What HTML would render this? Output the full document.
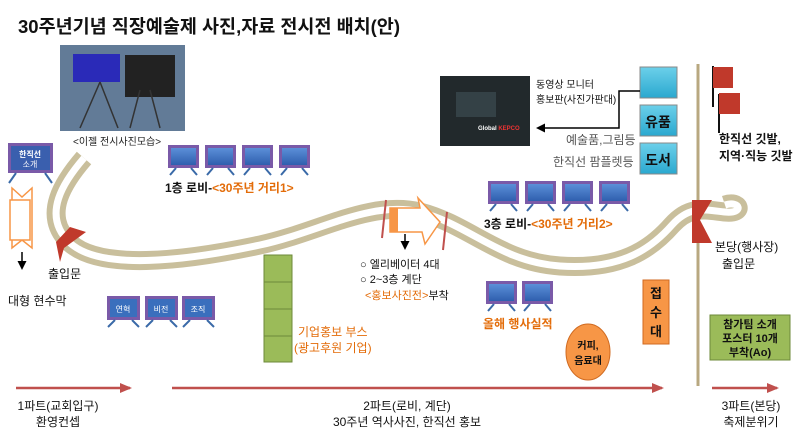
<!DOCTYPE html>
<html><head><meta charset="utf-8"><style>
body{margin:0;background:#fff;}
svg{display:block;font-family:"Liberation Sans","Noto Sans CJK KR",sans-serif;}
.b{font-weight:bold}
</style></head><body>
<svg width="800" height="435" viewBox="0 0 800 435" xmlns="http://www.w3.org/2000/svg">
<defs>
<linearGradient id="scr" x1="0" y1="0" x2="0" y2="1"><stop offset="0" stop-color="#5b8fd8"/><stop offset="1" stop-color="#2f5fae"/></linearGradient>
<linearGradient id="cy" x1="0" y1="0" x2="0" y2="1"><stop offset="0" stop-color="#6cd0ea"/><stop offset="1" stop-color="#2aa8cf"/></linearGradient>
<marker id="ar" markerUnits="userSpaceOnUse" markerWidth="12" markerHeight="10" refX="10" refY="5" orient="auto"><path d="M0,0 L12,5 L0,10 Z" fill="#c0504d"/></marker>
<marker id="ak" markerUnits="userSpaceOnUse" markerWidth="9" markerHeight="9" refX="7" refY="4.5" orient="auto"><path d="M0,0 L9,4.5 L0,9 Z" fill="#000"/></marker>
<g id="scrn"><rect x="0" y="0" width="31" height="23" fill="#7a5aa8"/><rect x="3" y="3" width="25" height="17" fill="url(#scr)"/><path d="M8,23 L2,30 M23,23 L29,30" stroke="#3a6aa8" stroke-width="2"/></g>
<g id="sm"><rect x="0" y="0" width="33" height="24" fill="#7a5aa8"/><rect x="3" y="3" width="27" height="18" fill="#3a6fbd"/><path d="M8,24 L1,31 M25,24 L32,31" stroke="#3a6aa8" stroke-width="2"/></g>
</defs>
<text x="18" y="33" font-size="18.5" class="b" fill="#111">30주년기념 직장예술제 사진,자료 전시전 배치(안)</text>
<!-- photo -->
<rect x="60" y="45" width="125" height="86" fill="#5a6f86"/>
<rect x="60" y="45" width="125" height="86" fill="#6a87a8" opacity="0.5"/>
<rect x="73" y="54" width="47" height="28" fill="#2a2ab8"/>
<rect x="125" y="55" width="50" height="42" fill="#222"/>
<path d="M100,82 L80,128 M100,82 L118,128 M140,90 L130,128 M150,90 L160,128" stroke="#333" stroke-width="1.5"/>
<text x="73" y="145" font-size="10" fill="#222">&lt;이젤 전시사진모습&gt;</text>
<!-- road -->
<path d="M84,158 C65,180 40,215 70,243 C100,270 180,262 260,245 C320,232 370,200 420,212 C470,225 500,262 560,266 C620,270 650,250 672,225 C690,205 705,210 725,212 C745,214 740,200 725,205" fill="none" stroke="#c9bf9c" stroke-width="19"/>
<path d="M84,158 C65,180 40,215 70,243 C100,270 180,262 260,245 C320,232 370,200 420,212 C470,225 500,262 560,266 C620,270 650,250 672,225 C690,205 705,210 725,212 C745,214 740,200 725,205" fill="none" stroke="#fff" stroke-width="7"/>
<!-- left easel -->
<rect x="8" y="143" width="45" height="30" fill="#7a5aa8"/><rect x="11" y="146" width="39" height="24" fill="#3a5fae"/>
<text x="30" y="157" font-size="8" fill="#fff" text-anchor="middle" class="b">한직선</text>
<text x="30" y="167" font-size="8" fill="#fff" text-anchor="middle">소개</text>
<path d="M16,173 L9,183 M45,173 L52,183" stroke="#3a6aa8" stroke-width="2"/>
<path d="M12,188 L22,197 L32,188 L32,248 L22,240 L12,248 Z" fill="#fff" stroke="#f79646" stroke-width="1.5"/>
<rect x="10" y="200" width="20" height="40" fill="#fff" stroke="#f79646" stroke-width="1.5"/>
<line x1="22" y1="252" x2="22" y2="268" stroke="#000" stroke-width="1.5" marker-end="url(#ak)"/>
<text x="8" y="305" font-size="12" fill="#111">대형 현수막</text>
<path d="M70,227 L86,232 L64,248 L60,262 L56,242 Z" fill="#c0392b"/>
<text x="48" y="278" font-size="12" fill="#111">출입문</text>
<!-- 1F screens -->
<use href="#scrn" x="168" y="145"/><use href="#scrn" x="205" y="145"/><use href="#scrn" x="242" y="145"/><use href="#scrn" x="279" y="145"/>
<text x="165" y="192" font-size="12" class="b" fill="#111">1층 로비-<tspan fill="#e36c09">&lt;30주년 거리1&gt;</tspan></text>
<!-- arrow -->
<path d="M390,208 L420,208 L418,198 L440,222 L425,244 L422,232 L390,232 Z" fill="#fff" stroke="#f79646" stroke-width="1.5"/>
<rect x="390" y="208" width="8" height="24" fill="#f79646"/>
<line x1="386" y1="200" x2="382" y2="238" stroke="#c0504d" stroke-width="2"/>
<line x1="447" y1="212" x2="443" y2="250" stroke="#c0504d" stroke-width="2"/>
<line x1="405" y1="234" x2="405" y2="248" stroke="#000" stroke-width="1.5" marker-end="url(#ak)"/>
<text x="360" y="268" font-size="11" fill="#111">○ 엘리베이터 4대</text>
<text x="360" y="283" font-size="11" fill="#111">○ 2~3층 계단</text>
<text x="365" y="299" font-size="11" fill="#111"><tspan fill="#e36c09">&lt;홍보사진전&gt;</tspan>부착</text>
<!-- 3F screens -->
<use href="#scrn" x="488" y="181"/><use href="#scrn" x="525" y="181"/><use href="#scrn" x="562" y="181"/><use href="#scrn" x="599" y="181"/>
<text x="484" y="228" font-size="12" class="b" fill="#111">3층 로비-<tspan fill="#e36c09">&lt;30주년 거리2&gt;</tspan></text>
<!-- green booth -->
<g fill="#9bbb59" stroke="#6e8a3a"><rect x="264" y="255" width="28" height="27"/><rect x="264" y="282" width="28" height="27"/><rect x="264" y="309" width="28" height="27"/><rect x="264" y="336" width="28" height="26"/></g>
<text x="298" y="336" font-size="12" fill="#e36c09">기업홍보 부스</text>
<text x="294" y="352" font-size="12" fill="#e36c09">(광고후원 기업)</text>
<!-- small easels -->
<use href="#sm" x="107" y="296"/><use href="#sm" x="145" y="296"/><use href="#sm" x="182" y="296"/>
<text x="123" y="312" font-size="8" fill="#fff" text-anchor="middle">연혁</text>
<text x="161" y="312" font-size="8" fill="#fff" text-anchor="middle">비전</text>
<text x="198" y="312" font-size="8" fill="#fff" text-anchor="middle">조직</text>
<!-- this year -->
<use href="#scrn" x="486" y="281"/><use href="#scrn" x="522" y="281"/>
<text x="483" y="328" font-size="12" class="b" fill="#e36c09">올해 행사실적</text>
<ellipse cx="588" cy="352" rx="22" ry="28" fill="#f79646" stroke="#d06a20"/>
<text x="588" y="349" font-size="10" text-anchor="middle" class="b" fill="#111">커피,</text>
<text x="588" y="364" font-size="10" text-anchor="middle" class="b" fill="#111">음료대</text>
<rect x="643" y="280" width="26" height="64" fill="#f79646" stroke="#d06a20"/>
<text x="656" y="298" font-size="13" text-anchor="middle" class="b" fill="#111">접</text>
<text x="656" y="317" font-size="13" text-anchor="middle" class="b" fill="#111">수</text>
<text x="656" y="336" font-size="13" text-anchor="middle" class="b" fill="#111">대</text>
<!-- vertical line -->
<line x1="698" y1="64" x2="698" y2="386" stroke="#b8a880" stroke-width="3"/>
<path d="M692,200 L712,200 L700,220 L712,243 L692,243 Z" fill="#c0392b"/>
<text x="715" y="251" font-size="12" fill="#111">본당(행사장)</text>
<text x="722" y="268" font-size="12" fill="#111">출입문</text>
<!-- flags -->
<line x1="713" y1="66" x2="713" y2="107" stroke="#111" stroke-width="2"/>
<path d="M713,67 L733,67 L733,88 L713,88 Z" fill="#c0392b"/>
<line x1="719" y1="94" x2="719" y2="133" stroke="#111" stroke-width="2"/>
<path d="M719,93 L740,93 L740,114 L719,114 Z" fill="#c0392b"/>
<text x="719" y="143" font-size="12" class="b" fill="#111">한직선 깃발,</text>
<text x="719" y="160" font-size="12" class="b" fill="#111">지역·직능 깃발</text>
<rect x="710" y="315" width="80" height="45" fill="#9bbb59" stroke="#6e8a3a"/>
<text x="750" y="328" font-size="11" text-anchor="middle" class="b" fill="#111">참가팀 소개</text>
<text x="750" y="342" font-size="11" text-anchor="middle" class="b" fill="#111">포스터 10개</text>
<text x="750" y="356" font-size="11" text-anchor="middle" class="b" fill="#111">부착(Ao)</text>
<!-- cyan boxes -->
<rect x="640" y="67" width="37" height="31" fill="url(#cy)" stroke="#888"/>
<rect x="640" y="105" width="37" height="31" fill="url(#cy)" stroke="#888"/>
<text x="658" y="127" font-size="14" class="b" text-anchor="middle" fill="#111">유품</text>
<rect x="640" y="143" width="37" height="31" fill="url(#cy)" stroke="#888"/>
<text x="658" y="165" font-size="14" class="b" text-anchor="middle" fill="#111">도서</text>
<!-- monitor photo -->
<rect x="440" y="76" width="90" height="70" fill="#22292c"/>
<rect x="456" y="92" width="40" height="25" fill="#3a474e" opacity="0.8"/>
<text x="478" y="130" font-size="6" fill="#fff" class="b">Global <tspan fill="#e33">KEPCO</tspan></text>
<text x="536" y="88" font-size="10" fill="#111">동영상 모니터</text>
<text x="536" y="103" font-size="10" fill="#111">홍보판(사진가판대)</text>
<path d="M640,91 L619,91 L619,128 L538,128" fill="none" stroke="#000" stroke-width="1.5" marker-end="url(#ak)"/>
<text x="566" y="144" font-size="12" fill="#555">예술품,그림등</text>
<text x="553" y="166" font-size="12" fill="#555">한직선 팜플렛등</text>
<!-- bottom arrows -->
<line x1="16" y1="388" x2="130" y2="388" stroke="#c0504d" stroke-width="2.5" marker-end="url(#ar)"/>
<line x1="172" y1="388" x2="662" y2="388" stroke="#c0504d" stroke-width="2.5" marker-end="url(#ar)"/>
<line x1="712" y1="388" x2="777" y2="388" stroke="#c0504d" stroke-width="2.5" marker-end="url(#ar)"/>
<text x="58" y="410" font-size="12" text-anchor="middle" fill="#111">1파트(교회입구)</text>
<text x="58" y="426" font-size="12" text-anchor="middle" fill="#111">환영컨셉</text>
<text x="407" y="410" font-size="12" text-anchor="middle" fill="#111">2파트(로비, 계단)</text>
<text x="407" y="426" font-size="12" text-anchor="middle" fill="#111">30주년 역사사진, 한직선 홍보</text>
<text x="751" y="410" font-size="12" text-anchor="middle" fill="#111">3파트(본당)</text>
<text x="751" y="426" font-size="12" text-anchor="middle" fill="#111">축제분위기</text>
</svg>
</body></html>
